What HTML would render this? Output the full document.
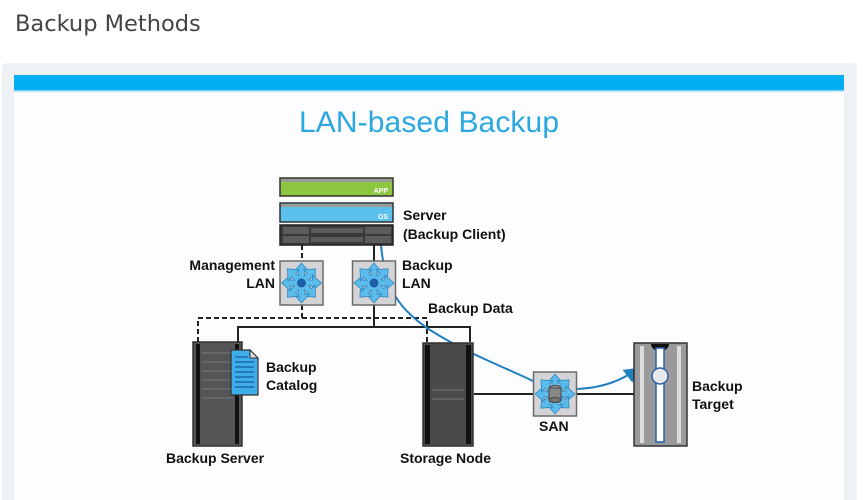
<!DOCTYPE html>
<html><head><meta charset="utf-8"><style>
html,body{margin:0;padding:0;background:#fff;width:865px;height:500px;overflow:hidden}
svg{display:block}
svg text{font-family:"Liberation Sans",Arial,sans-serif}
svg text.hd{font-family:"DejaVu Sans",sans-serif}
</style></head><body>
<svg width="865" height="500" viewBox="0 0 865 500" xmlns="http://www.w3.org/2000/svg">
<defs>
<g id="arr">
<polygon points="0,-20 -8,-11 -3,-11 -3,-5 3,-5 3,-11 8,-11" fill="#5bbbea" stroke="#2b7fb8" stroke-width="0.7"/>
</g>
<g id="sw">
<rect x="-21.5" y="-22" width="43" height="44" fill="#d4d4d6" stroke="#6b6b6b" stroke-width="1.5"/>
<use href="#arr"/><use href="#arr" transform="rotate(45)"/><use href="#arr" transform="rotate(90)"/><use href="#arr" transform="rotate(135)"/>
<use href="#arr" transform="rotate(180)"/><use href="#arr" transform="rotate(225)"/><use href="#arr" transform="rotate(270)"/><use href="#arr" transform="rotate(315)"/>
<circle r="7" fill="#5bbbea"/>
</g>
<marker id="ah" markerWidth="8" markerHeight="8" refX="6" refY="4" orient="auto"><path d="M0,0 L7,4 L0,8 z" fill="#1f7fc0"/></marker>
</defs>
<text class="hd" x="15" y="31" font-size="22.5" fill="#444">Backup Methods</text>
<rect x="2" y="63" width="855" height="445" rx="5" fill="#eef2f5"/>
<rect x="14" y="75" width="830" height="430" fill="#fdfcff"/>
<rect x="14" y="75" width="830" height="16" fill="#02aff0"/>
<rect x="14" y="90" width="830" height="1.5" fill="#7ed3f5"/>
<text x="429" y="132" text-anchor="middle" font-size="30" textLength="260" fill="#29a8e0">LAN-based Backup</text>

<g stroke="#222" stroke-width="2" fill="none">
<path d="M302 245 V261 M302 305 V318 H198 V342 M302 318 H427 V342" stroke-dasharray="5,3"/>
<path d="M374 245 V261 M374 305 V327 M238 342 V327 H470 V342"/>
<path d="M474 394 H533 M577 394 H635"/>
</g>
<path d="M381 245 C385 290,400 310,430 330 C470 355,500 365,535 382" stroke="#1f7fc0" stroke-width="2" fill="none"/>
<path d="M577 389 C600 388,620 382,637 369" stroke="#1f7fc0" stroke-width="2" fill="none" marker-end="url(#ah)"/>

<rect x="280" y="178" width="113" height="18" fill="#8dc63f" stroke="#333" stroke-width="1.5"/>
<rect x="281" y="179" width="111" height="3" fill="#9a9a9a"/>
<text x="388" y="193" text-anchor="end" font-size="7" font-weight="bold" fill="#fff">APP</text>
<rect x="280" y="203" width="113" height="19" fill="#5bc0eb" stroke="#333" stroke-width="1.5"/>
<rect x="281" y="204" width="111" height="3" fill="#9a9a9a"/>
<text x="388" y="219" text-anchor="end" font-size="7" font-weight="bold" fill="#fff">OS</text>
<rect x="280" y="225" width="113" height="20" fill="#3a3a3c" stroke="#222" stroke-width="1.5"/>
<g fill="#5c5c5e"><rect x="283" y="227" width="26" height="7"/><rect x="283" y="236" width="26" height="7"/><rect x="365" y="227" width="26" height="7"/><rect x="365" y="236" width="26" height="7"/><rect x="311" y="228" width="52" height="5"/><rect x="311" y="237" width="52" height="5"/></g>
<text x="403" y="220" font-size="14" font-weight="bold" fill="#111">Server</text>
<text x="403" y="239" font-size="14" font-weight="bold" fill="#111">(Backup Client)</text>

<g transform="translate(301.5,283)"><use href="#sw"/><circle r="4.5" fill="#1c5fa8"/></g>
<g transform="translate(374,283)"><use href="#sw"/><circle r="4.5" fill="#1c5fa8"/></g>
<g font-size="14" font-weight="bold" fill="#111">
<text x="275" y="270" text-anchor="end">Management</text>
<text x="275" y="288" text-anchor="end">LAN</text>
<text x="402" y="270">Backup</text>
<text x="402" y="288">LAN</text>
<text x="428" y="313">Backup Data</text>
</g>

<rect x="193" y="342" width="49" height="104" fill="#555557" stroke="#333" stroke-width="1.5"/>
<rect x="196" y="344" width="4" height="100" fill="#111"/><rect x="235" y="344" width="4" height="100" fill="#111"/>
<g stroke="#777" stroke-width="1"><line x1="202" y1="353" x2="233" y2="353"/><line x1="202" y1="362" x2="233" y2="362"/><line x1="202" y1="371" x2="233" y2="371"/><line x1="202" y1="380" x2="233" y2="380"/><line x1="202" y1="389" x2="233" y2="389"/><line x1="202" y1="398" x2="233" y2="398"/></g>
<path d="M231 350 H250 L258 358 V395 H231 Z" fill="#3daee9" stroke="#333" stroke-width="1.2"/>
<path d="M250 350 V358 H258 Z" fill="#e0e0e0" stroke="#333" stroke-width="1"/>
<g stroke="#1a5a9a" stroke-width="1.2"><line x1="235" y1="357" x2="248" y2="357"/><line x1="235" y1="362" x2="254" y2="362"/><line x1="235" y1="367" x2="254" y2="367"/><line x1="235" y1="372" x2="254" y2="372"/><line x1="235" y1="377" x2="254" y2="377"/><line x1="235" y1="382" x2="254" y2="382"/><line x1="235" y1="387" x2="254" y2="387"/></g>
<g font-size="14" font-weight="bold" fill="#111">
<text x="266" y="372">Backup</text><text x="266" y="390">Catalog</text>
<text x="166" y="463">Backup Server</text>
<text x="400" y="463">Storage Node</text>
<text x="539" y="431">SAN</text>
<text x="692" y="391">Backup</text><text x="692" y="409">Target</text>
</g>

<rect x="423" y="343" width="50" height="103" fill="#4a4a4c" stroke="#333" stroke-width="1.5"/>
<rect x="425" y="345" width="5" height="99" fill="#111"/><rect x="466" y="345" width="5" height="99" fill="#111"/>
<line x1="432" y1="390" x2="464" y2="390" stroke="#777"/><line x1="432" y1="399" x2="464" y2="399" stroke="#777"/>

<g transform="translate(555,394)"><use href="#sw"/>
<ellipse cx="0" cy="-6" rx="6" ry="2.5" fill="#999" stroke="#444"/><rect x="-6" y="-6" width="12" height="12" fill="#888" stroke="#444"/><ellipse cx="0" cy="6" rx="6" ry="2.5" fill="#777" stroke="#444"/></g>

<rect x="634" y="343" width="53" height="103" fill="#9a9a9c" stroke="#333" stroke-width="1.5"/>
<rect x="640" y="346" width="4" height="97" fill="#ddd"/><rect x="677" y="346" width="4" height="97" fill="#ddd"/>
<path d="M651 344 A9 7 0 0 0 669 344 Z" fill="#111"/>
<rect x="656" y="348" width="8" height="94" fill="#fff" stroke="#2a5fa8" stroke-width="1.5"/>
<circle cx="660" cy="376" r="8" fill="#e8e8ec" stroke="#2a5fa8" stroke-width="1.5"/>
</svg>
</body></html>
